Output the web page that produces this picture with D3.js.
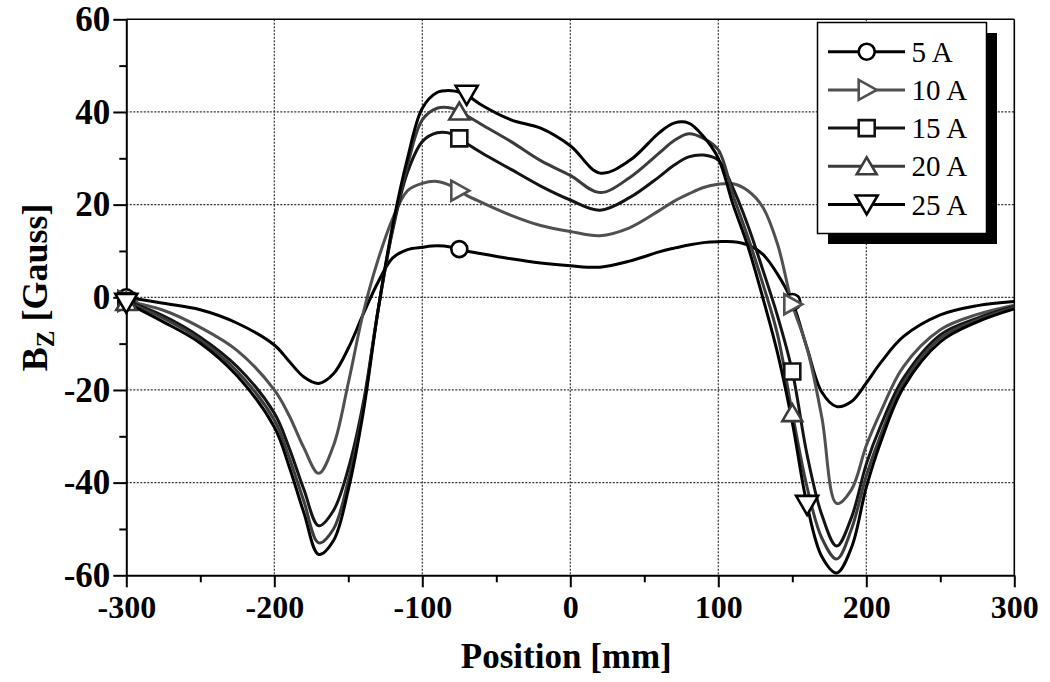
<!DOCTYPE html>
<html><head><meta charset="utf-8">
<script src="https://cdn.jsdelivr.net/npm/d3@7"></script>
<style>body{margin:0;background:#fff}svg{display:block}</style></head>
<body><svg id="c" width="1050" height="682"></svg>
<script>
// ---------- data ----------
const positions = [-300,-275,-250,-225,-200,-190,-180,-170,-160,-150,-140,-130,-120,-110,-100,-90,-80,-75,-70,-60,-40,-20,0,20,40,60,70,80,90,100,110,120,130,140,150,160,170,180,190,200,210,225,250,275,300];
const bz5A  = [0,-1.3,-2.7,-5.6,-10.3,-13.8,-17.2,-18.6,-16.5,-11,-3.7,3.2,8.5,10.3,10.8,11.1,10.8,10.4,10,9.4,8.3,7.4,6.8,6.5,7.8,9.8,10.6,11.3,11.8,12,12,11.3,9.3,5,-1,-11,-20.5,-23.6,-22.5,-18.5,-14,-8.5,-3.8,-1.8,-0.9];
const bz10A = [-0.8,-2.8,-6.5,-11.5,-20,-25.5,-32.5,-38,-32,-18.5,-3.5,8,17,23,24.6,25,24,23,22,20.5,17.7,15.5,14.2,13.3,15,18.7,20.7,22.3,23.7,24.4,24.5,23,19.5,11.5,-1.5,-11,-26,-44.5,-41.5,-32,-24.5,-15,-7,-3.7,-1.7];
const bz15A = [-0.8,-4,-8.6,-15,-25,-32.5,-41.5,-49.3,-46,-37,-23,-3,14.5,27,33.6,35.5,35.3,34.3,33.2,31.2,27.6,24,21,18.8,21.5,26,28.5,30.3,30.7,29.6,23.5,15.5,6,-4,-16,-34,-47,-53.7,-47.5,-36,-27.5,-17.5,-8.1,-4.5,-2];
const bz20A = [-1,-4.5,-9.2,-16,-26.5,-34.5,-44,-53,-50,-39.5,-24,-3,15,28.5,38.3,40.8,40.8,40.1,39.2,37.3,33.6,29.5,26.3,22.6,25.8,31.1,33.8,35.3,34.3,31.8,22,13,3,-8,-25,-41,-52,-56.5,-50,-38.5,-29.5,-18.5,-8.8,-4.9,-2.2];
const bz25A = [-1.2,-5.3,-9.9,-17,-28,-36.5,-46.5,-55.5,-52.5,-41.5,-25,-3,15.5,30,40.8,44.2,44.6,44.3,43.7,41.5,38.3,36.5,32.7,26.8,29.5,35.5,37.6,37.6,34.7,30,20,11,0,-12,-27,-44.8,-56,-59.5,-54,-41,-31,-19.5,-9.6,-5.3,-2.5];
const seriesNames = ["5 A","10 A","15 A","20 A","25 A"];
const seriesValues = [bz5A,bz10A,bz15A,bz20A,bz25A];
const seriesColors = ["#000000","#505050","#141414","#3c3c3c","#000000"];
const seriesSymbols = ["circle","triangleRight","square","triangleUp","triangleDown"];
const markerPositions = [[-300,-75,150],[-300,-75,150],[-300,-75,150],[-300,-75,150],[-300,-70,160]];
const xTicks = [-300,-200,-100,0,100,200,300];
const xMinorTicks = [-250,-150,-50,50,150,250];
const yTicks = [-60,-40,-20,0,20,40,60];
const yMinorTicks = [-50,-30,-10,10,30,50];

// ---------- layout ----------
const svg = d3.select("#c");
const L = 126.3, R = 1014.3, T = 19.3, B = 575.3;
const x = d3.scaleLinear().domain([-300,300]).range([L,R]);
const y = d3.scaleLinear().domain([-60,60]).range([B,T]);
const serif = "'Liberation Serif','Times New Roman',Times,serif";
const fmt = d => String(d);

// grid
const grid = svg.append("g");
grid.selectAll(".gx").data(xTicks.slice(1,-1)).join("line")
  .attr("x1",d=>x(d)).attr("x2",d=>x(d)).attr("y1",T).attr("y2",B)
  .attr("stroke","#333").attr("stroke-width",1.2).attr("stroke-dasharray","2,1.5");
grid.selectAll(".gy").data(yTicks.slice(1,-1)).join("line")
  .attr("y1",d=>y(d)).attr("y2",d=>y(d)).attr("x1",L).attr("x2",R)
  .attr("stroke","#333").attr("stroke-width",1.2).attr("stroke-dasharray","2,1.5");

// frame top/right
svg.append("line").attr("x1",L).attr("x2",R).attr("y1",T).attr("y2",T).attr("stroke","#000").attr("stroke-width",1.6);
svg.append("line").attr("x1",R).attr("x2",R).attr("y1",T).attr("y2",B).attr("stroke","#000").attr("stroke-width",1.6);

// axes
function styleAxis(g){ g.select(".domain").attr("stroke","#000").attr("stroke-width",2);
  g.selectAll(".tick line").attr("stroke","#000").attr("stroke-width",2); }
const xAx = svg.append("g").attr("transform",`translate(0,${B})`)
  .call(d3.axisBottom(x).tickValues(xTicks).tickSize(12).tickSizeOuter(0).tickPadding(8).tickFormat(fmt));
styleAxis(xAx);
xAx.selectAll("text").attr("font-family",serif).attr("font-weight","bold").attr("font-size",32).attr("fill","#000").attr("dy","0.72em");
const xMin = svg.append("g").attr("transform",`translate(0,${B})`)
  .call(d3.axisBottom(x).tickValues(xMinorTicks).tickSize(7).tickFormat(""));
styleAxis(xMin); xMin.select(".domain").remove();

const yAx = svg.append("g").attr("transform",`translate(${L},0)`)
  .call(d3.axisLeft(y).tickValues(yTicks).tickSize(13).tickSizeOuter(0).tickPadding(3).tickFormat(fmt));
styleAxis(yAx);
yAx.selectAll("text").attr("font-family",serif).attr("font-weight","bold").attr("font-size",35).attr("fill","#000");
const yMin = svg.append("g").attr("transform",`translate(${L},0)`)
  .call(d3.axisLeft(y).tickValues(yMinorTicks).tickSize(7).tickFormat(""));
styleAxis(yMin); yMin.select(".domain").remove();

// axis titles
svg.append("text").attr("x",(L+R)/2-4).attr("y",668).attr("text-anchor","middle")
  .attr("font-family",serif).attr("font-weight","bold").attr("font-size",35).text("Position [mm]");
const yt = svg.append("text").attr("transform",`translate(47,${(T+B)/2-10}) rotate(-90)`).attr("text-anchor","middle")
  .attr("font-family",serif).attr("font-weight","bold").attr("font-size",36);
yt.append("tspan").text("B");
yt.append("tspan").attr("font-size",25).attr("dy",7).text("Z");
yt.append("tspan").attr("dy",-7).text(" [Gauss]");

// lines
const line = d3.line().x(d=>x(d[0])).y(d=>y(d[1])).curve(d3.curveCatmullRom.alpha(0.5));
const lines = svg.append("g");
seriesValues.forEach((vals,i)=>{
  lines.append("path").datum(positions.map((p,j)=>[p,vals[j]]))
    .attr("d",line).attr("fill","none").attr("stroke",seriesColors[i]).attr("stroke-width",3);
});

// marker shapes
function symPath(type){
  switch(type){
    case "circle": return "M8,0A8,8 0 1,1 -8,0A8,8 0 1,1 8,0Z";
    case "square": return "M-8,-8H8V8H-8Z";
    case "triangleUp": return "M0,-9L10,8H-10Z";
    case "triangleDown": return "M-11,-9H11L0,10Z";
    case "triangleRight": return "M-8,-10L10,0L-8,10Z";
  }
}
const marks = svg.append("g");
seriesValues.forEach((vals,i)=>{
  markerPositions[i].forEach(p=>{
    const j = positions.indexOf(p);
    marks.append("path").attr("d",symPath(seriesSymbols[i]))
      .attr("transform",`translate(${x(positions[j])},${y(vals[j])})`)
      .attr("fill","#fff").attr("stroke",seriesColors[i]).attr("stroke-width",2.6);
  });
});

// legend
const lg = svg.append("g");
lg.append("rect").attr("x",828).attr("y",33).attr("width",169).attr("height",211).attr("fill","#000");
lg.append("rect").attr("x",817.5).attr("y",22.5).attr("width",169).attr("height",211).attr("fill","#fff").attr("stroke","#000").attr("stroke-width",1.5);
seriesNames.forEach((nm,i)=>{
  const cy = 51.7 + i*38.2;
  lg.append("line").attr("x1",828).attr("x2",905).attr("y1",cy).attr("y2",cy).attr("stroke",seriesColors[i]).attr("stroke-width",3);
  lg.append("path").attr("d",symPath(seriesSymbols[i])).attr("transform",`translate(866.7,${cy})`)
    .attr("fill","#fff").attr("stroke",seriesColors[i]).attr("stroke-width",2.6);
  lg.append("text").attr("x",911.5).attr("y",cy).attr("dy","0.35em").attr("font-family",serif)
    .attr("font-size",29).attr("fill","#000").text(nm);
});
</script></body></html>
